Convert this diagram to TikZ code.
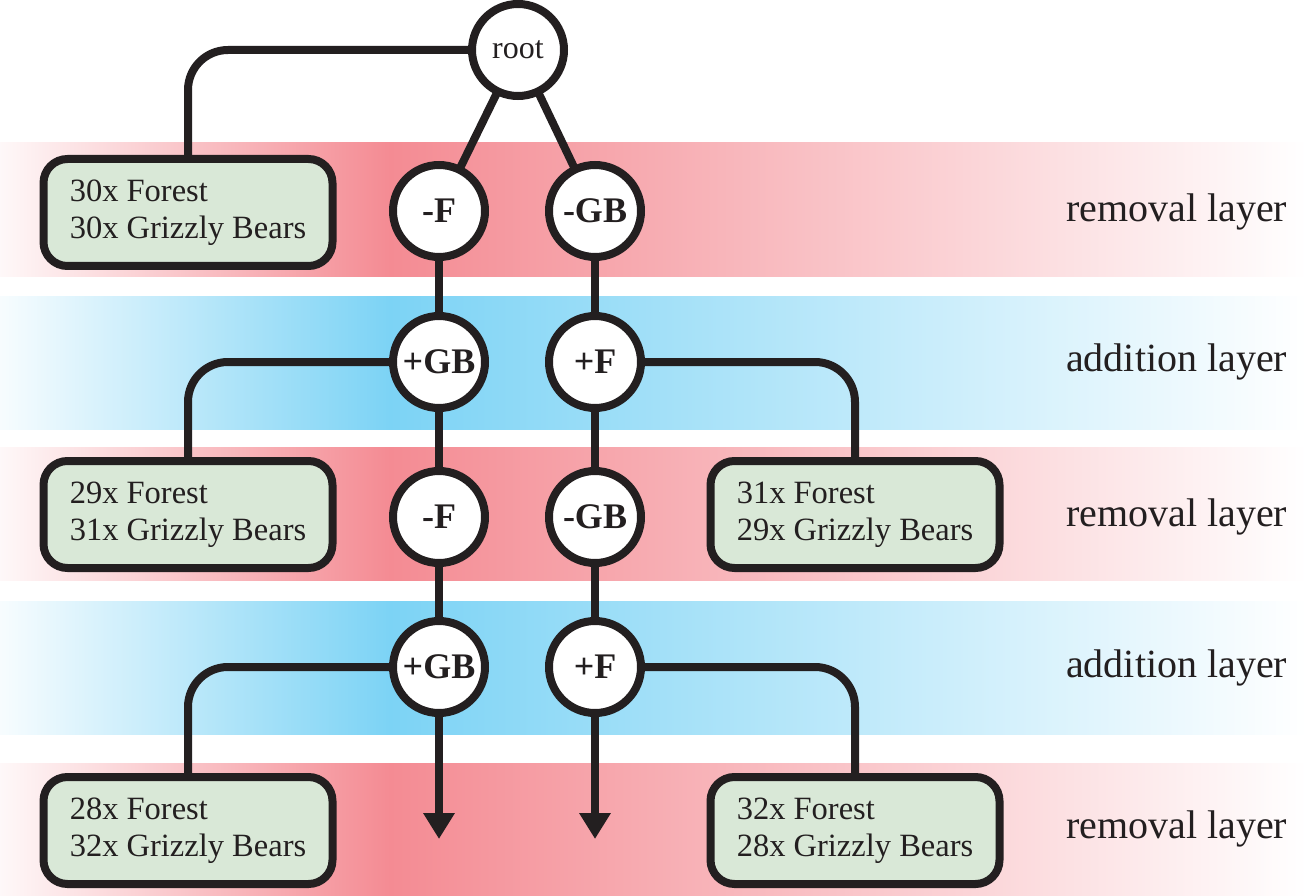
\documentclass[tikz,border=0pt]{standalone}
\usepackage{fontspec}
\setmainfont{Liberation Serif}
\usetikzlibrary{arrows.meta}
\definecolor{ink}{RGB}{35,31,32}
\definecolor{pinkpk}{RGB}{244,139,147}
\definecolor{bluepk}{RGB}{124,211,245}
\definecolor{boxfill}{RGB}{217,232,215}
\pgfdeclarelayer{bands}
\pgfdeclarelayer{links}
\pgfsetlayers{bands,links,main}
\newcommand\layerband[3]{%
  \shade[left color=#3!6, right color=#3] (0,#1) rectangle (390,#2);
  \shade[left color=#3, right color=white] (389.5,#1) rectangle (1307,#2);}
\tikzset{
  opnode/.style={circle, draw=ink, line width=8pt, fill=white, minimum size=92pt,
    inner sep=0pt, font=\fontsize{36}{40}\selectfont\bfseries, text=ink},
  rootnode/.style={opnode, font=\fontsize{32}{36}\selectfont},
  statebox/.style={draw=ink, line width=8pt, fill=boxfill, rounded corners=24pt,
    minimum width=289pt, minimum height=107pt, align=left,
    font=\fontsize{32.5}{37}\selectfont, text=ink, inner sep=0pt},
  link/.style={draw=ink, line width=8pt, rounded corners=40pt},
  tip/.style={-{Triangle[width=30pt,length=26pt]}},
  layerlabel/.style={anchor=base west, font=\fontsize{40}{42}\selectfont,
    text=ink, inner sep=0pt},
}
\begin{document}
\begin{tikzpicture}[x=1pt,y=-1pt]
\useasboundingbox (0,0) rectangle (1307,896);
\begin{pgfonlayer}{bands}
  \fill[white] (0,0) rectangle (1307,896);
  \layerband{143}{277}{pinkpk}
  \layerband{296}{429}{bluepk}
  \layerband{447}{580}{pinkpk}
  \layerband{601}{734}{bluepk}
  \layerband{763}{896}{pinkpk}
\end{pgfonlayer}

% operation nodes
\node[rootnode] (root) at (518,50) {root};
\node[opnode] (r1a) at (439,211) {-F};
\node[opnode] (r1b) at (595,211) {-GB};
\node[opnode] (a1a) at (439,362) {+GB};
\node[opnode] (a1b) at (595,362) {+F};
\node[opnode] (r2a) at (439,517) {-F};
\node[opnode] (r2b) at (595,517) {-GB};
\node[opnode] (a2a) at (439,667) {+GB};
\node[opnode] (a2b) at (595,667) {+F};

% state boxes
\node[statebox] (s0) at (188,212.5) {30x Forest\\30x Grizzly Bears};
\node[statebox] (s1) at (188,514.5) {29x Forest\\31x Grizzly Bears};
\node[statebox] (s2) at (855,514.5) {31x Forest\\29x Grizzly Bears};
\node[statebox] (s3) at (188,830.5) {28x Forest\\32x Grizzly Bears};
\node[statebox] (s4) at (855,830.5) {32x Forest\\28x Grizzly Bears};

% layer labels
\node[layerlabel] (l1) at (1066,222) {removal layer};
\node[layerlabel] (l2) at (1066,371) {addition layer};
\node[layerlabel] (l3) at (1066,526) {removal layer};
\node[layerlabel] (l4) at (1066,677) {addition layer};
\node[layerlabel] (l5) at (1066,838) {removal layer};

\coordinate (endA) at (439,839);
\coordinate (endB) at (595,839);

\begin{pgfonlayer}{links}
  \draw[link] (root.center) -| (s0.north);
  \draw[link] (root.center) -- (r1a.center);
  \draw[link] (root.center) -- (r1b.center);
  \draw[link] (r1a.center) -- (a1a.center);
  \draw[link] (r1b.center) -- (a1b.center);
  \draw[link] (a1a.center) -| (s1.north);
  \draw[link] (a1b.center) -| (s2.north);
  \draw[link] (a1a.center) -- (r2a.center);
  \draw[link] (a1b.center) -- (r2b.center);
  \draw[link] (r2a.center) -- (a2a.center);
  \draw[link] (r2b.center) -- (a2b.center);
  \draw[link] (a2a.center) -| (s3.north);
  \draw[link] (a2b.center) -| (s4.north);
  \draw[link,tip] (a2a.center) -- (endA);
  \draw[link,tip] (a2b.center) -- (endB);
\end{pgfonlayer}
\end{tikzpicture}
\end{document}
